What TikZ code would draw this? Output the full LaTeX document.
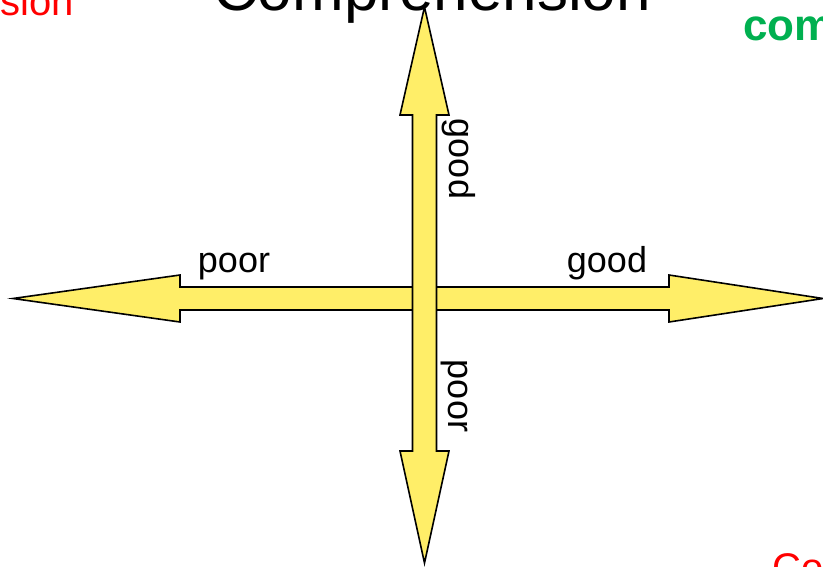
\documentclass[tikz,border=0pt]{standalone}
\usepackage{fontspec}
\setmainfont{Liberation Sans}
\definecolor{arrowfill}{RGB}{255,238,104}
\definecolor{offgreen}{RGB}{0,176,80}
\definecolor{offred}{RGB}{255,0,0}
\begin{document}
\begin{tikzpicture}[x=1pt,y=-1pt,
  bigarrow/.style={draw=black,fill=arrowfill,line width=1.6pt,line join=miter},
  lbl/.style={inner sep=0pt,font=\fontsize{36}{40}\selectfont},
]
\useasboundingbox (0,0) rectangle (823,566);
\clip (0,0) rectangle (823,566);
% horizontal double arrow
\draw[bigarrow] (13,298.5) -- (180,275) -- (180,287) -- (669,287) -- (669,275)
  -- (823,298.5) -- (669,322) -- (669,310) -- (180,310) -- (180,322) -- cycle;
% vertical double arrow
\draw[bigarrow] (424.5,7) -- (449,115) -- (436.5,115) -- (436.5,451) -- (449,451)
  -- (424.5,563) -- (400,451) -- (412.5,451) -- (412.5,115) -- (400,115) -- cycle;
% axis labels
\node[lbl,anchor=base] (hpoor) at (234,272) {poor};
\node[lbl,anchor=base] (hgood) at (607,272) {good};
\node[lbl,anchor=base,rotate=-90] (vgood) at (449,159) {good};
\node[lbl,anchor=base,rotate=-90] (vpoor) at (448,396) {poor};
% cut-off titles
\node[inner sep=0pt,anchor=base,font=\fontsize{62}{66}\selectfont] (title) at (432,10) {Comprehension};
\node[inner sep=0pt,anchor=base east,text=offred,font=\fontsize{40}{44}\selectfont] (leftt) at (74,15) {sion};
\node[inner sep=0pt,anchor=base west,text=offgreen,font=\fontsize{44}{48}\selectfont\bfseries] (rightt) at (743,40) {com};
\node[inner sep=0pt,anchor=base west,text=offred,font=\fontsize{40}{44}\selectfont] (bottomt) at (772,581) {Co};
\end{tikzpicture}
\end{document}
